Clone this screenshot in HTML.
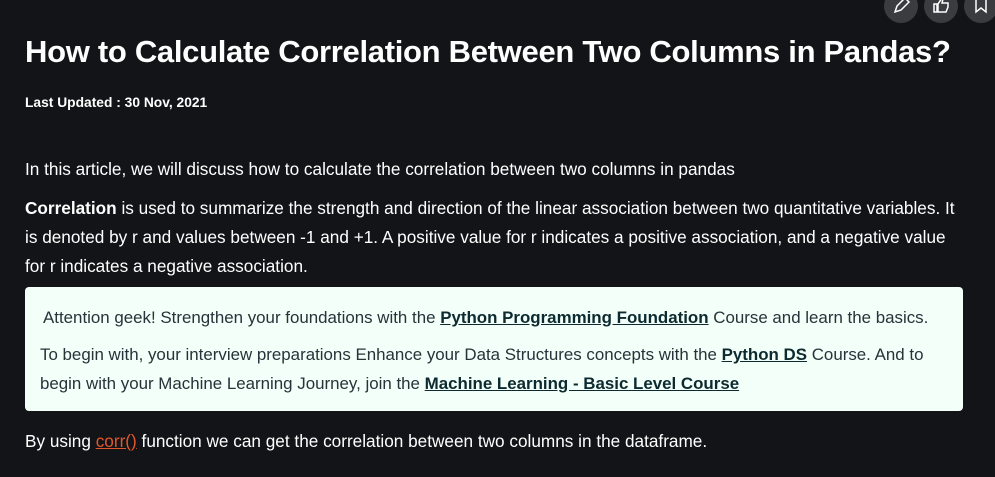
<!DOCTYPE html>
<html><head><meta charset="utf-8"><style>
html,body{margin:0;padding:0;width:995px;height:477px;overflow:hidden;background:#131417;font-family:"Liberation Sans",sans-serif;color:#fff}
.l{position:absolute;white-space:nowrap}
.t{left:25px;top:34px;font-size:31px;font-weight:bold;letter-spacing:-0.3px}
.d{left:25px;top:95px;font-size:13.8px;font-weight:bold}
.p{font-size:17.2px;left:25px}
.box{position:absolute;left:25px;top:287px;width:938px;height:124px;background:#f3fff9;border-radius:4px}
.b{color:#273239;font-size:16.9px}
.b a{color:#0c2a2f;font-weight:bold;text-decoration:underline}
.ic{position:absolute;top:-11px;width:34px;height:34px;border-radius:50%;background:#3a3c3f}
</style></head><body>
<div class="ic" style="left:884px"><svg width="34" height="34"><path d="M11 23 l2-6 8-8 4 4-8 8z" stroke="#fff" stroke-width="1.5" fill="none"/></svg></div>
<div class="ic" style="left:924px"><svg width="34" height="34"><path d="M10 15h3v8h-3z M14 23v-8l4-6 1 1-1 4h6v4l-2 5z" stroke="#fff" stroke-width="1.5" fill="none"/></svg></div>
<div class="ic" style="left:964px"><svg width="34" height="34"><path d="M12 8v15l5-4 5 4v-15" stroke="#fff" stroke-width="1.5" fill="none"/></svg></div>
<div class="l t">How to Calculate Correlation Between Two Columns in Pandas?</div>
<div class="l d">Last Updated : 30 Nov, 2021</div>
<div class="l p" style="top:159px">In this article, we will discuss how to calculate the correlation between two columns in pandas</div>
<div class="l p" style="top:198px"><b>Correlation</b> is used to summarize the strength and direction of the linear association between two quantitative variables. It</div>
<div class="l p" style="top:227px">is denoted by r and values between -1 and +1. A positive value for r indicates a positive association, and a negative value</div>
<div class="l p" style="top:256px">for r indicates a negative association.</div>
<div class="box">
<div class="l b" style="left:18px;top:21px">Attention geek! Strengthen your foundations with the <a>Python Programming Foundation</a> Course and learn the basics.</div>
<div class="l b" style="left:15px;top:58px">To begin with, your interview preparations Enhance your Data Structures concepts with the <a>Python DS</a> Course. And to</div>
<div class="l b" style="left:15px;top:87px">begin with your Machine Learning Journey, join the <a>Machine Learning - Basic Level Course</a></div>
</div>
<div class="l p" style="top:431px">By using <span style="color:#e2572b;text-decoration:underline">corr()</span> function we can get the correlation between two columns in the dataframe.</div>
</body></html>
